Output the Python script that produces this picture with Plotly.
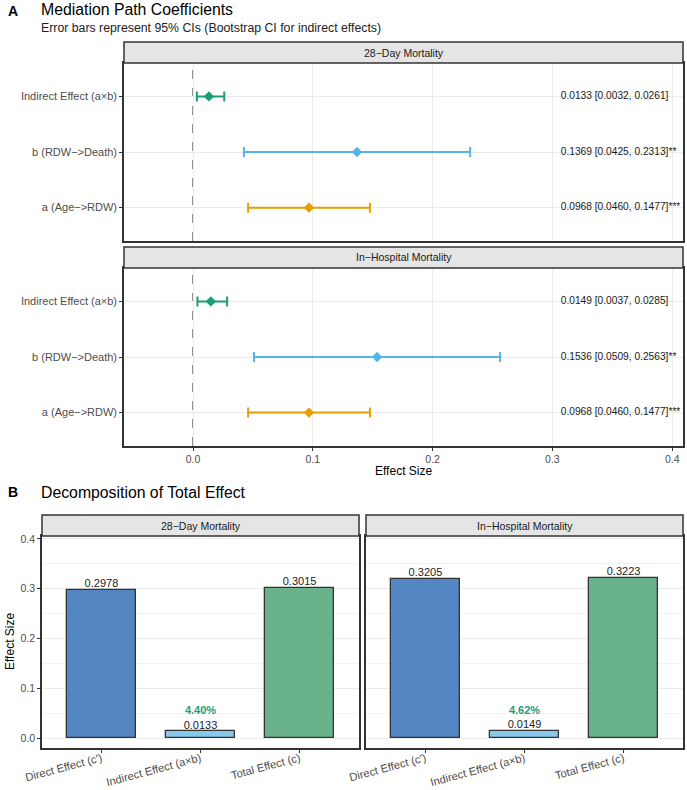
import plotly.graph_objects as go

W, H = 687, 790

# ---------------- data ----------------
facets = ["28−Day Mortality", "In−Hospital Mortality"]
paths = ["a (Age−>RDW)", "b (RDW−>Death)", "Indirect Effect (a×b)"]

est_28 = [0.0968, 0.1369, 0.0133]
lo_28 = [0.0460, 0.0425, 0.0032]
hi_28 = [0.1477, 0.2313, 0.0261]
sig_28 = ["***", "**", ""]

est_ih = [0.0968, 0.1536, 0.0149]
lo_ih = [0.0460, 0.0509, 0.0037]
hi_ih = [0.1477, 0.2563, 0.0285]
sig_ih = ["***", "**", ""]

effects = ["Direct Effect (c')", "Indirect Effect (a×b)", "Total Effect (c)"]
bar_28 = [0.2978, 0.0133, 0.3015]
bar_ih = [0.3205, 0.0149, 0.3223]
pct_mediated = ["4.40%", "4.62%"]

# ---------------- style ----------------
FONT = "Liberation Sans, Arial, sans-serif"
path_cols = ["#E69F00", "#56B4E9", "#1B9E77"]
bar_cols = ["#5385C3", "#87C8EC", "#69B28C"]
GRID = "#EBEBEB"
BORDER = "#333333"
TICKC = "#4D4D4D"
TEXT_X = 0.307


def px_x(p):
    return p / W


def px_y(p):
    return 1 - p / H


fig = go.Figure()

# ---------------- panel A ----------------
pa = [(est_28, lo_28, hi_28, sig_28, "x", "y"), (est_ih, lo_ih, hi_ih, sig_ih, "x2", "y2")]
for est, lo, hi, sig, xa, ya in pa:
    for i in range(3):
        fig.add_trace(go.Scatter(
            x=[est[i]], y=[paths[i]], mode="markers",
            marker=dict(symbol="diamond", size=8, color=path_cols[i]),
            error_x=dict(type="data", symmetric=False, array=[hi[i] - est[i]],
                         arrayminus=[est[i] - lo[i]], color=path_cols[i], thickness=2, width=5),
            xaxis=xa, yaxis=ya, showlegend=False, hoverinfo="skip"))
    labels = [f"{e:.4f} [{l:.4f}, {h:.4f}]{s}" for e, l, h, s in zip(est, lo, hi, sig)]
    fig.add_trace(go.Scatter(
        x=[TEXT_X] * 3, y=paths, mode="text", text=labels, textposition="middle right",
        textfont=dict(family=FONT, size=10.2, color="#1A1A1A"), cliponaxis=False,
        xaxis=xa, yaxis=ya, showlegend=False, hoverinfo="skip"))
    fig.add_shape(type="line", x0=0, x1=0, y0=0, y1=1, xref=xa, yref=f"{ya} domain",
                  line=dict(color="#555555", width=1.3, dash="dash"), layer="below")

# ---------------- panel B ----------------
pb = [(bar_28, pct_mediated[0], "x3", "y3"), (bar_ih, pct_mediated[1], "x4", "y4")]
for vals, pct, xa, ya in pb:
    fig.add_trace(go.Bar(
        x=effects, y=vals, width=0.7,
        marker=dict(color=bar_cols, line=dict(color=BORDER, width=1.3)),
        xaxis=xa, yaxis=ya, showlegend=False, hoverinfo="skip"))
    txt = []
    for j, v in enumerate(vals):
        if j == 1:
            txt.append(f"<span style='color:#1B9E77'><b>{pct}</b></span><br>{v:.4f}")
        else:
            txt.append(f"{v:.4f}")
    fig.add_trace(go.Scatter(
        x=effects, y=vals, mode="text", text=txt, textposition="top center",
        textfont=dict(family=FONT, size=11, color="#222222"), cliponaxis=False,
        xaxis=xa, yaxis=ya, showlegend=False, hoverinfo="skip"))

# ---------------- axes ----------------
common_frame = dict(showline=True, linecolor=BORDER, linewidth=1.5, mirror=True,
                    zeroline=False, automargin=False)
xA = dict(range=[-0.0576, 0.409], tickvals=[0, 0.1, 0.2, 0.3, 0.4], tickformat=".1f",
          showgrid=True, gridcolor=GRID, gridwidth=1,
          tickfont=dict(family=FONT, size=10.5, color=TICKC), **common_frame)
yA = dict(type="category", categoryorder="array", categoryarray=paths, range=[-0.6, 2.6],
          showgrid=True, gridcolor=GRID, gridwidth=1, ticks="outside", ticklen=3,
          tickcolor=BORDER, tickfont=dict(family=FONT, size=11, color=TICKC), **common_frame)

xB = dict(type="category", categoryorder="array", categoryarray=effects, range=[-0.6, 2.6],
          showgrid=False, ticks="outside", ticklen=3, tickcolor=BORDER, tickangle=-15,
          ticklabelstandoff=-5,
          tickfont=dict(family=FONT, size=11.2, color=TICKC), **common_frame)
yB = dict(range=[-0.0201, 0.406], tick0=0, dtick=0.1, tickformat=".1f",
          showgrid=True, gridcolor=GRID, gridwidth=1,
          minor=dict(dtick=0.05, tick0=0, showgrid=True, gridcolor="#F3F3F3", ticks=""),
          tickcolor=BORDER, **common_frame)

fig.update_layout(
    width=W, height=H, margin=dict(l=0, r=0, t=0, b=0, autoexpand=False),
    paper_bgcolor="white", plot_bgcolor="white", showlegend=False,
    xaxis=dict(domain=[px_x(124), px_x(683)], anchor="y", showticklabels=False, ticks="", **xA),
    yaxis=dict(domain=[px_y(241), px_y(63)], anchor="x", **yA),
    xaxis2=dict(domain=[px_x(124), px_x(683)], anchor="y2", ticks="outside", ticklen=3,
                tickcolor=BORDER, **xA),
    yaxis2=dict(domain=[px_y(446), px_y(268)], anchor="x2", **yA),
    xaxis3=dict(domain=[px_x(42), px_x(359)], anchor="y3", **xB),
    yaxis3=dict(domain=[px_y(748), px_y(536)], anchor="x3", ticks="outside", ticklen=3,
                tickfont=dict(family=FONT, size=10.5, color=TICKC), **yB),
    xaxis4=dict(domain=[px_x(366), px_x(683)], anchor="y4", **xB),
    yaxis4=dict(domain=[px_y(748), px_y(536)], anchor="x4", showticklabels=False, ticks="", **yB),
    bargap=0,
)

# ---------------- strips ----------------
strips = [
    (124, 683, 42, 63, facets[0]),
    (124, 683, 247, 268, facets[1]),
    (42, 359, 515, 536, facets[0]),
    (366, 683, 515, 536, facets[1]),
]
for x0, x1, y0, y1, lab in strips:
    fig.add_shape(type="rect", xref="paper", yref="paper",
                  x0=px_x(x0), x1=px_x(x1), y0=px_y(y1), y1=px_y(y0),
                  fillcolor="#E5E5E5", line=dict(color=BORDER, width=1.5), layer="above")
    fig.add_annotation(text=lab, xref="paper", yref="paper", x=px_x((x0 + x1) / 2),
                       y=px_y((y0 + y1) / 2), showarrow=False, xanchor="center", yanchor="middle",
                       font=dict(family=FONT, size=10.5, color="#1A1A1A"))

# ---------------- titles ----------------
def ann(text, x, y, size, color="black", xanchor="left", angle=0, bold=False):
    fig.add_annotation(text=f"<b>{text}</b>" if bold else text, xref="paper", yref="paper",
                       x=px_x(x), y=px_y(y), showarrow=False, xanchor=xanchor, yanchor="middle",
                       textangle=angle, font=dict(family=FONT, size=size, color=color))

ann("A", 6, 11, 14, bold=True)
ann("Mediation Path Coefficients", 39, 10, 15.8)
ann("Error bars represent 95% CIs (Bootstrap CI for indirect effects)", 39, 28, 12.3, color="#222222")
ann("Effect Size", 403.5, 471, 12, xanchor="center")
ann("B", 6, 492, 14, bold=True)
ann("Decomposition of Total Effect", 39, 492, 15.8)
ann("Effect Size", 10, 642, 12, xanchor="center", angle=-90)

fig.write_html("out.html")
